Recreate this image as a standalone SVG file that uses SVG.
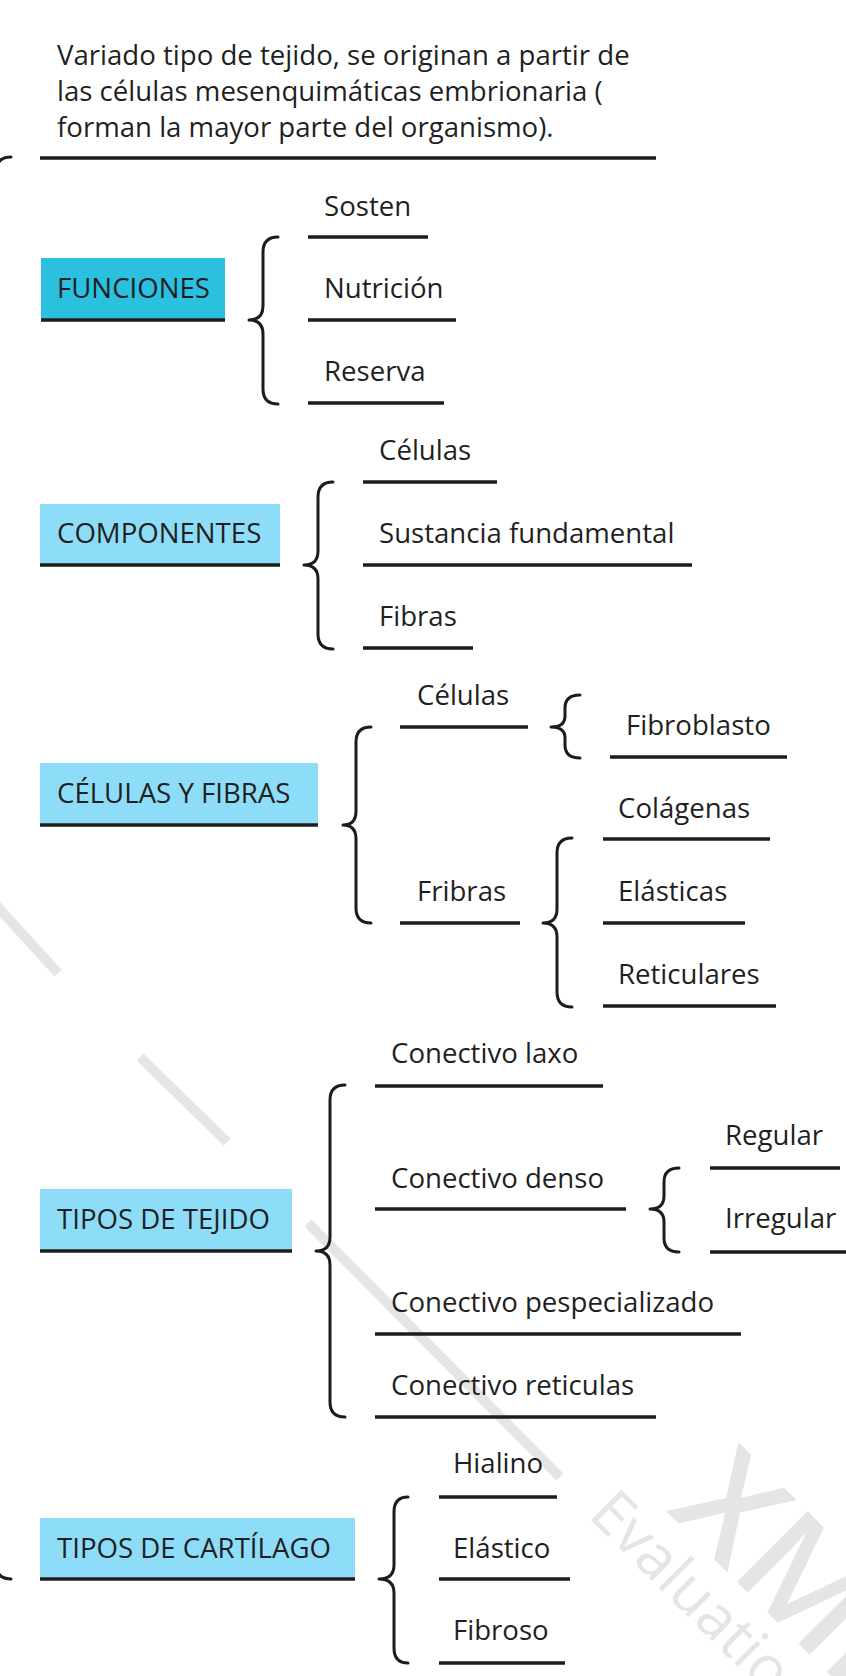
<svg xmlns="http://www.w3.org/2000/svg" width="846" height="1676" viewBox="0 0 846 1676">
<style>
text{font-family:"Open Sans","Liberation Sans",sans-serif;font-size:27.6px;fill:#1f1f1f}
.ul{stroke:#1c1c1c;stroke-width:3.5;fill:none}
.br{stroke:#1c1c1c;stroke-width:3;fill:none;stroke-linecap:round;stroke-linejoin:round}
.box{fill:#8EDDF8}
.wm{stroke:#e5e5e5;stroke-width:10;fill:none}
text.wmt{fill:#e5e5e5}
text.wmt1{font-size:60px}
text.wmt2{font-size:140px;font-weight:600}
</style>
<rect width="846" height="1676" fill="#ffffff"/>
<g id="watermark">
<line class="wm" x1="-5" y1="904" x2="58" y2="973"/>
<line class="wm" x1="140" y1="1057" x2="227" y2="1142"/>
<line class="wm" x1="308" y1="1223" x2="560" y2="1477"/>
<text class="wmt wmt1" x="0" y="0" transform="translate(587,1516) rotate(45)">Evaluation</text>
<text class="wmt wmt2" x="0" y="0" transform="translate(666,1511) rotate(45)">XMind</text>
</g>
<g id="connectors">
<path class="br" d="M11 157 Q-4 157 -4 172 L-4 1564 Q-4 1579 11 1579"/>
<path class="br" d="M278 237 Q263 237 263 252 L263 306 Q263 320 249 320 Q263 320 263 334 L263 389 Q263 404 278 404"/>
<path class="br" d="M333 482 Q318 482 318 497 L318 551 Q318 565 304 565 Q318 565 318 579 L318 634 Q318 649 333 649"/>
<path class="br" d="M371 727 Q356 727 356 742 L356 811 Q356 825 343 825 Q356 825 356 839 L356 908 Q356 923 371 923"/>
<path class="br" d="M580 695 Q565 695 565 708 L565 716 Q565 727 551 727 Q565 727 565 738 L565 745 Q565 758 580 758"/>
<path class="br" d="M572 838 Q557 838 557 853 L557 909 Q557 923 543 923 Q557 923 557 937 L557 992 Q557 1007 572 1007"/>
<path class="br" d="M345 1085 Q330 1085 330 1100 L330 1237 Q330 1251 316 1251 Q330 1251 330 1265 L330 1402 Q330 1417 345 1417"/>
<path class="br" d="M679 1168 Q664 1168 664 1182 L664 1196 Q664 1209 650 1209 Q664 1209 664 1222 L664 1238 Q664 1252 679 1252"/>
<path class="br" d="M408 1497 Q394 1497 394 1512 L394 1565 Q394 1579 379 1579 Q394 1579 394 1593 L394 1648 Q394 1663 408 1663"/>
</g>
<g id="root">
<text x="57" y="65">Variado tipo de tejido, se originan a partir de</text>
<text x="57" y="101">las células mesenquimáticas embrionaria (</text>
<text x="57" y="137">forman la mayor parte del organismo).</text>
<line class="ul" x1="40" y1="158" x2="656" y2="158"/>
</g>
<g id="funciones">
<rect x="41" y="258" width="184" height="61" fill="#2BBFE0"/>
<text x="57" y="298">FUNCIONES</text>
<line class="ul" x1="41" y1="320" x2="225" y2="320"/>
</g>
<g id="sosten"><text x="324" y="216">Sosten</text><line class="ul" x1="308" y1="237" x2="428" y2="237"/></g>
<g id="nutricion"><text x="324" y="298">Nutrición</text><line class="ul" x1="308" y1="320" x2="456" y2="320"/></g>
<g id="reserva"><text x="324" y="381">Reserva</text><line class="ul" x1="308" y1="403" x2="444" y2="403"/></g>
<g id="componentes">
<rect class="box" x="40" y="504" width="240" height="60"/>
<text x="57" y="543">COMPONENTES</text>
<line class="ul" x1="40" y1="565" x2="280" y2="565"/>
</g>
<g id="celulas1"><text x="379" y="460">Células</text><line class="ul" x1="363" y1="482" x2="497" y2="482"/></g>
<g id="sustancia"><text x="379" y="543">Sustancia fundamental</text><line class="ul" x1="363" y1="565" x2="692" y2="565"/></g>
<g id="fibras1"><text x="379" y="626">Fibras</text><line class="ul" x1="363" y1="648" x2="473" y2="648"/></g>
<g id="celulasyfibras">
<rect class="box" x="40" y="763" width="278" height="61"/>
<text x="57" y="803">CÉLULAS Y FIBRAS</text>
<line class="ul" x1="40" y1="825" x2="318" y2="825"/>
</g>
<g id="celulas2"><text x="417" y="705">Células</text><line class="ul" x1="400" y1="727" x2="528" y2="727"/></g>
<g id="fibroblasto"><text x="626" y="735">Fibroblasto</text><line class="ul" x1="610" y1="757" x2="787" y2="757"/></g>
<g id="fribras"><text x="417" y="901">Fribras</text><line class="ul" x1="400" y1="923" x2="520" y2="923"/></g>
<g id="colagenas"><text x="618" y="818">Colágenas</text><line class="ul" x1="603" y1="839" x2="770" y2="839"/></g>
<g id="elasticas"><text x="618" y="901">Elásticas</text><line class="ul" x1="603" y1="923" x2="745" y2="923"/></g>
<g id="reticulares"><text x="618" y="984">Reticulares</text><line class="ul" x1="603" y1="1006" x2="776" y2="1006"/></g>
<g id="tiposdetejido">
<rect class="box" x="40" y="1189" width="252" height="61"/>
<text x="57" y="1229">TIPOS DE TEJIDO</text>
<line class="ul" x1="40" y1="1251" x2="292" y2="1251"/>
</g>
<g id="laxo"><text x="391" y="1063">Conectivo laxo</text><line class="ul" x1="375" y1="1086" x2="603" y2="1086"/></g>
<g id="denso"><text x="391" y="1188">Conectivo denso</text><line class="ul" x1="375" y1="1209" x2="626" y2="1209"/></g>
<g id="regular"><text x="725" y="1145">Regular</text><line class="ul" x1="710" y1="1168" x2="840" y2="1168"/></g>
<g id="irregular"><text x="725" y="1228">Irregular</text><line class="ul" x1="710" y1="1252" x2="846" y2="1252"/></g>
<g id="especializado"><text x="391" y="1312">Conectivo pespecializado</text><line class="ul" x1="375" y1="1334" x2="741" y2="1334"/></g>
<g id="reticulas"><text x="391" y="1395">Conectivo reticulas</text><line class="ul" x1="375" y1="1417" x2="656" y2="1417"/></g>
<g id="cartilago">
<rect class="box" x="40" y="1518" width="315" height="60"/>
<text x="57" y="1558">TIPOS DE CARTÍLAGO</text>
<line class="ul" x1="40" y1="1579" x2="355" y2="1579"/>
</g>
<g id="hialino"><text x="453" y="1473">Hialino</text><line class="ul" x1="439" y1="1497" x2="557" y2="1497"/></g>
<g id="elastico"><text x="453" y="1558">Elástico</text><line class="ul" x1="439" y1="1579" x2="570" y2="1579"/></g>
<g id="fibroso"><text x="453" y="1640">Fibroso</text><line class="ul" x1="439" y1="1663" x2="565" y2="1663"/></g>
</svg>
